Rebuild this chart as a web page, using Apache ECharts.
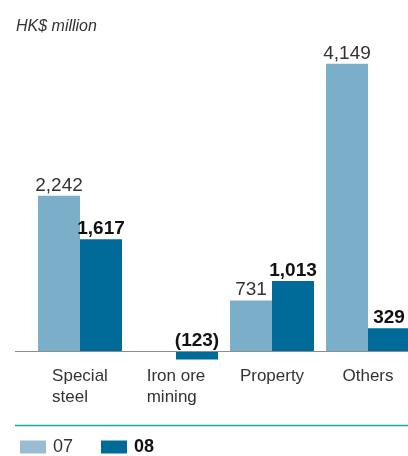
<!DOCTYPE html>
<html>
<head>
<meta charset="utf-8">
<script src="https://cdn.jsdelivr.net/npm/echarts@6/dist/echarts.min.js"></script>
<style>
  html, body { margin: 0; padding: 0; background: #fff; }
  #chart { width: 408px; height: 456px; }
</style>
</head>
<body>
<div id="chart"></div>
<script>
const categories = ['Special\nsteel', 'Iron ore\nmining', 'Property', 'Others']
const seriesNames = ['07', '08']
const values07 = [2242, null, 731, 4149]
const values08 = [1617, -123, 1013, 329]

const COLOR_07 = '#7aaec9'
const COLOR_07_LEGEND = '#98bcd2'
const COLOR_08 = '#006b98'
const FONT = 'Liberation Sans, Arial, Helvetica, sans-serif'

function fmt(v) {
  const n = Math.abs(v).toLocaleString('en-US')
  return v < 0 ? '(' + n + ')' : n
}

const chart = echarts.init(document.getElementById('chart'))

chart.setOption({
  animation: false,
  title: {
    text: 'HK$ million',
    left: 11,
    top: 14,
    textStyle: { fontFamily: FONT, fontSize: 16, fontStyle: 'italic', fontWeight: 'normal', color: '#333' }
  },
  legend: {
    left: 15,
    top: 433,
    itemWidth: 26,
    itemHeight: 13,
    itemGap: 28,
    icon: 'rect',
    data: [
      { name: '07', itemStyle: { color: COLOR_07_LEGEND } },
      { name: '08', itemStyle: { color: COLOR_08 } }
    ],
    formatter: name => (name === '08' ? '{b|08}' : '{a|07}'),
    textStyle: {
      rich: {
        a: { fontFamily: FONT, fontSize: 18, color: '#333', padding: [0, 0, 0, 2] },
        b: { fontFamily: FONT, fontSize: 18, fontWeight: 'bold', color: '#111', padding: [0, 0, 0, 2] }
      }
    }
  },
  grid: { left: 32, right: -8, top: 46.5, height: 318.4, outerBoundsMode: 'none' },
  xAxis: {
    type: 'category',
    data: categories,
    axisLine: { show: false, onZero: true },
    axisTick: { show: false },
    axisLabel: {
      margin: 1,
      formatter: v => v.split('\n').map(s => '{a|' + s + '}').join('\n'),
      rich: {
        a: { fontFamily: FONT, fontSize: 17, lineHeight: 21, color: '#333', align: 'left' }
      }
    }
  },
  yAxis: {
    type: 'value',
    min: -200,
    max: 4400,
    show: false,
    splitLine: { show: false }
  },
  series: [
    {
      name: seriesNames[0],
      type: 'bar',
      data: values07,
      barWidth: 42,
      barGap: '0%',
      itemStyle: { color: COLOR_07 },
      label: {
        show: true,
        position: 'top',
        distance: 1,
        formatter: p => fmt(p.value),
        fontFamily: FONT,
        fontSize: 19,
        color: '#333'
      }
    },
    {
      name: seriesNames[1],
      type: 'bar',
      data: values08,
      barWidth: 42,
      barGap: '0%',
      itemStyle: { color: COLOR_08 },
      label: {
        show: true,
        position: 'top',
        distance: 1,
        formatter: p => fmt(p.value),
        fontFamily: FONT,
        fontSize: 19,
        fontWeight: 'bold',
        color: '#111'
      }
    }
  ]
})

// baseline across the full width + legend separator
const y0 = chart.convertToPixel({ yAxisIndex: 0 }, 0)
chart.setOption({
  graphic: [
    {
      type: 'line',
      shape: { x1: 15, y1: Math.round(y0) + 0.5, x2: 408, y2: Math.round(y0) + 0.5 },
      style: { stroke: '#8c8c8c', lineWidth: 1 },
      z: 10
    },
    {
      type: 'line',
      shape: { x1: 15, y1: 425.5, x2: 408, y2: 425.5 },
      style: { stroke: '#1aa59a', lineWidth: 1.5 }
    }
  ]
})
</script>
</body>
</html>
